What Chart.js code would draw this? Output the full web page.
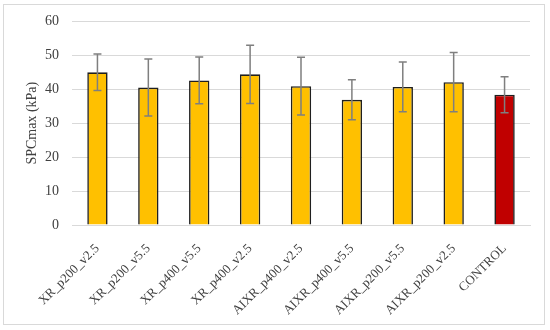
<!DOCTYPE html>
<html>
<head>
<meta charset="utf-8">
<script src="https://cdn.jsdelivr.net/npm/chart.js@4.4.0/dist/chart.umd.min.js"></script>
<style>
    html, body { margin: 0; padding: 0; background: #fff; }
    #wrap { width: 550px; height: 330px; position: relative; }
</style>
</head>
<body>
<div id="wrap"><canvas id="spcChart" width="550" height="330"></canvas></div>
<script>
const labels = [
    'XR_p200_v2.5', 'XR_p200_v5.5', 'XR_p400_v5.5', 'XR_p400_v2.5',
    'AIXR_p400_v2.5', 'AIXR_p400_v5.5', 'AIXR_p200_v5.5', 'AIXR_p200_v2.5',
    'CONTROL'
];
const means = [45.0, 40.5, 42.6, 44.4, 40.9, 36.9, 40.7, 42.1, 38.4];
const sds = [5.4, 8.4, 6.9, 8.6, 8.5, 5.9, 7.3, 8.7, 5.3];
const barColors = ['#FFC000', '#FFC000', '#FFC000', '#FFC000', '#FFC000', '#FFC000', '#FFC000', '#FFC000', '#C00000'];

const serif = '"Liberation Serif", "DejaVu Serif", serif';

// outer frame like the exported figure
const framePlugin = {
    id: 'frame',
    beforeDraw(chart) {
        const ctx = chart.ctx;
        ctx.save();
        ctx.fillStyle = '#fff';
        ctx.fillRect(0, 0, chart.width, chart.height);
        ctx.strokeStyle = '#d9d9d9';
        ctx.lineWidth = 1;
        ctx.strokeRect(3.5, 4.5, 541, 320);
        ctx.restore();
    }
};

// standard deviation whiskers
const errorBars = {
    id: 'errorBars',
    afterDatasetsDraw(chart) {
        const ctx = chart.ctx;
        const y = chart.scales.y;
        const meta = chart.getDatasetMeta(0);
        ctx.save();
        ctx.strokeStyle = '#7f7f7f';
        ctx.lineWidth = 1.5;
        meta.data.forEach((bar, i) => {
            const top = y.getPixelForValue(means[i] + sds[i]);
            const bot = y.getPixelForValue(means[i] - sds[i]);
            ctx.beginPath();
            ctx.moveTo(bar.x, top);
            ctx.lineTo(bar.x, bot);
            ctx.moveTo(bar.x - 4, top);
            ctx.lineTo(bar.x + 4, top);
            ctx.moveTo(bar.x - 4, bot);
            ctx.lineTo(bar.x + 4, bot);
            ctx.stroke();
        });
        ctx.restore();
    }
};

const ctx = document.getElementById('spcChart').getContext('2d');
new Chart(ctx, {
    type: 'bar',
    data: {
        labels,
        datasets: [{
            data: means,
            backgroundColor: barColors,
            borderColor: '#1f1f1f',
            borderWidth: 1.6,
            categoryPercentage: 1,
            barPercentage: 0.4
        }]
    },
    options: {
        responsive: false,
        animation: false,
        layout: { padding: { left: 24, right: 20, top: 16, bottom: 0 } },
        plugins: {
            legend: { display: false },
            tooltip: { enabled: false }
        },
        scales: {
            x: {
                grid: { display: false },
                border: { color: '#d9d9d9', width: 1 },
                ticks: {
                    color: '#404040',
                    font: { family: serif, size: 13 },
                    maxRotation: 45,
                    minRotation: 45,
                    padding: 8
                },
                afterFit(scale) { scale.height = 105; }
            },
            y: {
                min: 0,
                max: 60,
                ticks: {
                    stepSize: 10,
                    color: '#404040',
                    font: { family: serif, size: 14 },
                    padding: 13
                },
                grid: { color: '#d9d9d9', drawTicks: false },
                border: { display: false },
                title: {
                    display: true,
                    text: 'SPCmax (kPa)',
                    color: '#404040',
                    font: { family: serif, size: 14 },
                    padding: { top: 0, bottom: 4 }
                },
                afterFit(scale) { scale.width = 48; }
            }
        }
    },
    plugins: [framePlugin, errorBars]
});
</script>
</body>
</html>
